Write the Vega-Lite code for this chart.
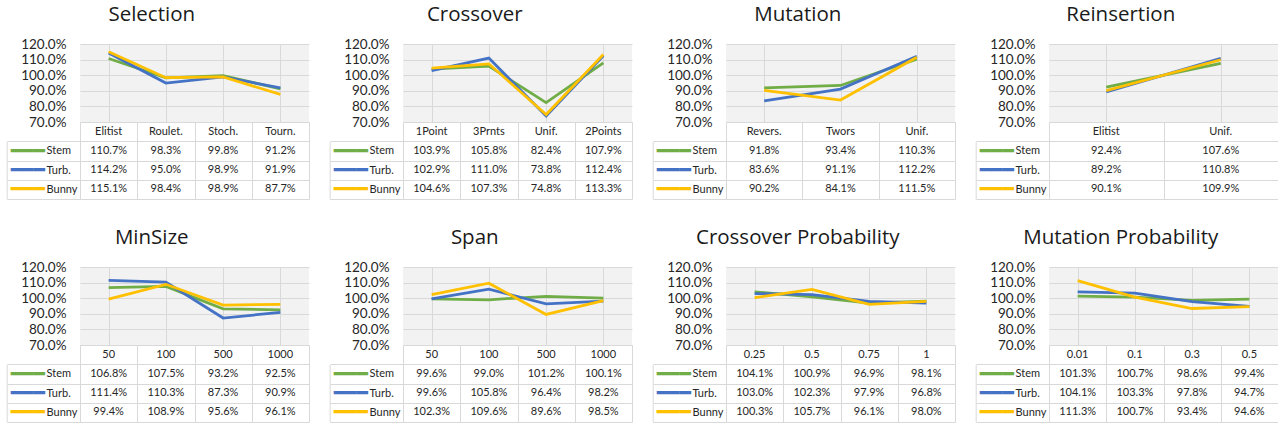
{
  "$schema": "https://vega.github.io/schema/vega-lite/v6.json",
  "padding": {"left": 6, "top": 4, "right": 0, "bottom": 0},
  "datasets": {
    "Selection": [
      {"cat": "Elitist", "s": "Stem", "v": 1.107}, {"cat": "Roulet.", "s": "Stem", "v": 0.983}, {"cat": "Stoch.", "s": "Stem", "v": 0.998}, {"cat": "Tourn.", "s": "Stem", "v": 0.912},
      {"cat": "Elitist", "s": "Turb.", "v": 1.142}, {"cat": "Roulet.", "s": "Turb.", "v": 0.950}, {"cat": "Stoch.", "s": "Turb.", "v": 0.989}, {"cat": "Tourn.", "s": "Turb.", "v": 0.919},
      {"cat": "Elitist", "s": "Bunny", "v": 1.151}, {"cat": "Roulet.", "s": "Bunny", "v": 0.984}, {"cat": "Stoch.", "s": "Bunny", "v": 0.989}, {"cat": "Tourn.", "s": "Bunny", "v": 0.877}
    ],
    "Crossover": [
      {"cat": "1Point", "s": "Stem", "v": 1.039}, {"cat": "3Prnts", "s": "Stem", "v": 1.058}, {"cat": "Unif.", "s": "Stem", "v": 0.824}, {"cat": "2Points", "s": "Stem", "v": 1.079},
      {"cat": "1Point", "s": "Turb.", "v": 1.029}, {"cat": "3Prnts", "s": "Turb.", "v": 1.110}, {"cat": "Unif.", "s": "Turb.", "v": 0.738}, {"cat": "2Points", "s": "Turb.", "v": 1.124},
      {"cat": "1Point", "s": "Bunny", "v": 1.046}, {"cat": "3Prnts", "s": "Bunny", "v": 1.073}, {"cat": "Unif.", "s": "Bunny", "v": 0.748}, {"cat": "2Points", "s": "Bunny", "v": 1.133}
    ],
    "Mutation": [
      {"cat": "Revers.", "s": "Stem", "v": 0.918}, {"cat": "Twors", "s": "Stem", "v": 0.934}, {"cat": "Unif.", "s": "Stem", "v": 1.103},
      {"cat": "Revers.", "s": "Turb.", "v": 0.836}, {"cat": "Twors", "s": "Turb.", "v": 0.911}, {"cat": "Unif.", "s": "Turb.", "v": 1.122},
      {"cat": "Revers.", "s": "Bunny", "v": 0.902}, {"cat": "Twors", "s": "Bunny", "v": 0.841}, {"cat": "Unif.", "s": "Bunny", "v": 1.115}
    ],
    "Reinsertion": [
      {"cat": "Elitist", "s": "Stem", "v": 0.924}, {"cat": "Unif.", "s": "Stem", "v": 1.076},
      {"cat": "Elitist", "s": "Turb.", "v": 0.892}, {"cat": "Unif.", "s": "Turb.", "v": 1.108},
      {"cat": "Elitist", "s": "Bunny", "v": 0.901}, {"cat": "Unif.", "s": "Bunny", "v": 1.099}
    ],
    "MinSize": [
      {"cat": "50", "s": "Stem", "v": 1.068}, {"cat": "100", "s": "Stem", "v": 1.075}, {"cat": "500", "s": "Stem", "v": 0.932}, {"cat": "1000", "s": "Stem", "v": 0.925},
      {"cat": "50", "s": "Turb.", "v": 1.114}, {"cat": "100", "s": "Turb.", "v": 1.103}, {"cat": "500", "s": "Turb.", "v": 0.873}, {"cat": "1000", "s": "Turb.", "v": 0.909},
      {"cat": "50", "s": "Bunny", "v": 0.994}, {"cat": "100", "s": "Bunny", "v": 1.089}, {"cat": "500", "s": "Bunny", "v": 0.956}, {"cat": "1000", "s": "Bunny", "v": 0.961}
    ],
    "Span": [
      {"cat": "50", "s": "Stem", "v": 0.996}, {"cat": "100", "s": "Stem", "v": 0.990}, {"cat": "500", "s": "Stem", "v": 1.012}, {"cat": "1000", "s": "Stem", "v": 1.001},
      {"cat": "50", "s": "Turb.", "v": 0.996}, {"cat": "100", "s": "Turb.", "v": 1.058}, {"cat": "500", "s": "Turb.", "v": 0.964}, {"cat": "1000", "s": "Turb.", "v": 0.982},
      {"cat": "50", "s": "Bunny", "v": 1.023}, {"cat": "100", "s": "Bunny", "v": 1.096}, {"cat": "500", "s": "Bunny", "v": 0.896}, {"cat": "1000", "s": "Bunny", "v": 0.985}
    ],
    "CrossProb": [
      {"cat": "0.25", "s": "Stem", "v": 1.041}, {"cat": "0.5", "s": "Stem", "v": 1.009}, {"cat": "0.75", "s": "Stem", "v": 0.969}, {"cat": "1", "s": "Stem", "v": 0.981},
      {"cat": "0.25", "s": "Turb.", "v": 1.030}, {"cat": "0.5", "s": "Turb.", "v": 1.023}, {"cat": "0.75", "s": "Turb.", "v": 0.979}, {"cat": "1", "s": "Turb.", "v": 0.968},
      {"cat": "0.25", "s": "Bunny", "v": 1.003}, {"cat": "0.5", "s": "Bunny", "v": 1.057}, {"cat": "0.75", "s": "Bunny", "v": 0.961}, {"cat": "1", "s": "Bunny", "v": 0.980}
    ],
    "MutProb": [
      {"cat": "0.01", "s": "Stem", "v": 1.013}, {"cat": "0.1", "s": "Stem", "v": 1.007}, {"cat": "0.3", "s": "Stem", "v": 0.986}, {"cat": "0.5", "s": "Stem", "v": 0.994},
      {"cat": "0.01", "s": "Turb.", "v": 1.041}, {"cat": "0.1", "s": "Turb.", "v": 1.033}, {"cat": "0.3", "s": "Turb.", "v": 0.978}, {"cat": "0.5", "s": "Turb.", "v": 0.947},
      {"cat": "0.01", "s": "Bunny", "v": 1.113}, {"cat": "0.1", "s": "Bunny", "v": 1.007}, {"cat": "0.3", "s": "Bunny", "v": 0.934}, {"cat": "0.5", "s": "Bunny", "v": 0.946}
    ]
  },
  "spacing": 27,
  "vconcat": [
    {
      "spacing": 20,
      "hconcat": [
        {"data": {"name": "Selection"}, "title": {"text": "Selection"}, "bounds": "flush", "spacing": 0, "vconcat": [
          {"width": 229, "height": 78, "view": {"fill": "#f2f2f2", "stroke": null}, "mark": {"type": "line", "strokeWidth": 2.75},
           "encoding": {
             "x": {"field": "cat", "type": "nominal", "sort": null, "scale": {"type": "point", "padding": 0.5}, "axis": {"title": null, "labels": false, "ticks": false, "domain": false, "grid": true}},
             "y": {"field": "v", "type": "quantitative", "scale": {"domain": [0.7, 1.2], "nice": false, "zero": false}, "axis": {"title": null, "values": [0.7, 0.8, 0.9, 1.0, 1.1, 1.2], "format": ".1%", "domain": false, "ticks": false, "labelPadding": 14, "labelFontSize": 13.5, "grid": true}},
             "color": {"field": "s", "type": "nominal", "scale": {"domain": ["Stem", "Turb.", "Bunny"], "range": ["#70AD47", "#4472C4", "#FFC000"]}, "legend": null}}},
          {"width": 229, "height": 77, "view": {"stroke": null}, "resolve": {"axis": {"y": "independent"}}, "layer": [
            {"mark": {"type": "text", "fontSize": 11, "font": "Lato", "color": "#262626"},
             "encoding": {
               "x": {"field": "cat", "type": "nominal", "sort": null, "scale": {"type": "band", "paddingInner": 0, "paddingOuter": 0}, "axis": {"title": null, "labels": false, "ticks": false, "domain": false, "grid": true, "tickBand": "extent"}},
               "y": {"field": "s", "type": "nominal", "scale": {"type": "band", "domain": ["hdr", "Stem", "Turb.", "Bunny"], "paddingInner": 0, "paddingOuter": 0}, "axis": {"title": null, "domain": false, "grid": true, "tickBand": "extent", "ticks": true, "tickSize": 73, "tickColor": {"condition": {"test": "datum.extra", "value": "transparent"}, "value": "#d9d9d9"}, "labelPadding": -39, "labelAlign": "left", "labelFontSize": 11, "labelExpr": "datum.value === 'hdr' ? '' : datum.value"}},
               "text": {"field": "v", "type": "quantitative", "format": ".1%"}}},
            {"transform": [{"filter": "datum.s === 'Stem'"}], "mark": {"type": "text", "fontSize": 11, "font": "Lato", "color": "#262626"},
             "encoding": {
               "x": {"field": "cat", "type": "nominal", "sort": null, "scale": {"type": "band", "paddingInner": 0, "paddingOuter": 0}, "axis": {"title": null, "labels": false, "ticks": false, "domain": false, "grid": true, "tickBand": "extent"}},
               "y": {"datum": "hdr", "type": "nominal", "scale": {"type": "band", "domain": ["hdr", "Stem", "Turb.", "Bunny"], "paddingInner": 0, "paddingOuter": 0}, "axis": null},
               "text": {"field": "cat", "type": "nominal"}}},
            {"mark": {"type": "text", "opacity": 0},
             "encoding": {
               "y": {"field": "s", "type": "nominal", "scale": {"type": "band", "domain": ["hdr", "Stem", "Turb.", "Bunny"], "paddingInner": 0, "paddingOuter": 0}, "axis": {"orient": "left", "offset": 73.3, "title": null, "domain": true, "domainColor": "#d9d9d9", "domainDash": [0, 19.25, 57.75, 0], "grid": false, "ticks": false, "tickSize": 0, "labelPadding": -3.6, "labelAlign": "left", "labelFont": "DejaVu Sans", "labelFontSize": 18.8, "labelExpr": "datum.value === 'hdr' ? '' : '━━━'", "labelColor": {"condition": [{"test": "datum.value === 'Stem'", "value": "#70AD47"}, {"test": "datum.value === 'Turb.'", "value": "#4472C4"}], "value": "#FFC000"}}},
               "text": {"value": ""}}}
          ]}
        ]},
        {"data": {"name": "Crossover"}, "title": {"text": "Crossover"}, "bounds": "flush", "spacing": 0, "vconcat": [
          {"width": 229, "height": 78, "view": {"fill": "#f2f2f2", "stroke": null}, "mark": {"type": "line", "strokeWidth": 2.75},
           "encoding": {
             "x": {"field": "cat", "type": "nominal", "sort": null, "scale": {"type": "point", "padding": 0.5}, "axis": {"title": null, "labels": false, "ticks": false, "domain": false, "grid": true}},
             "y": {"field": "v", "type": "quantitative", "scale": {"domain": [0.7, 1.2], "nice": false, "zero": false}, "axis": {"title": null, "values": [0.7, 0.8, 0.9, 1.0, 1.1, 1.2], "format": ".1%", "domain": false, "ticks": false, "labelPadding": 14, "labelFontSize": 13.5, "grid": true}},
             "color": {"field": "s", "type": "nominal", "scale": {"domain": ["Stem", "Turb.", "Bunny"], "range": ["#70AD47", "#4472C4", "#FFC000"]}, "legend": null}}},
          {"width": 229, "height": 77, "view": {"stroke": null}, "resolve": {"axis": {"y": "independent"}}, "layer": [
            {"mark": {"type": "text", "fontSize": 11, "font": "Lato", "color": "#262626"},
             "encoding": {
               "x": {"field": "cat", "type": "nominal", "sort": null, "scale": {"type": "band", "paddingInner": 0, "paddingOuter": 0}, "axis": {"title": null, "labels": false, "ticks": false, "domain": false, "grid": true, "tickBand": "extent"}},
               "y": {"field": "s", "type": "nominal", "scale": {"type": "band", "domain": ["hdr", "Stem", "Turb.", "Bunny"], "paddingInner": 0, "paddingOuter": 0}, "axis": {"title": null, "domain": false, "grid": true, "tickBand": "extent", "ticks": true, "tickSize": 73, "tickColor": {"condition": {"test": "datum.extra", "value": "transparent"}, "value": "#d9d9d9"}, "labelPadding": -39, "labelAlign": "left", "labelFontSize": 11, "labelExpr": "datum.value === 'hdr' ? '' : datum.value"}},
               "text": {"field": "v", "type": "quantitative", "format": ".1%"}}},
            {"transform": [{"filter": "datum.s === 'Stem'"}], "mark": {"type": "text", "fontSize": 11, "font": "Lato", "color": "#262626"},
             "encoding": {
               "x": {"field": "cat", "type": "nominal", "sort": null, "scale": {"type": "band", "paddingInner": 0, "paddingOuter": 0}, "axis": {"title": null, "labels": false, "ticks": false, "domain": false, "grid": true, "tickBand": "extent"}},
               "y": {"datum": "hdr", "type": "nominal", "scale": {"type": "band", "domain": ["hdr", "Stem", "Turb.", "Bunny"], "paddingInner": 0, "paddingOuter": 0}, "axis": null},
               "text": {"field": "cat", "type": "nominal"}}},
            {"mark": {"type": "text", "opacity": 0},
             "encoding": {
               "y": {"field": "s", "type": "nominal", "scale": {"type": "band", "domain": ["hdr", "Stem", "Turb.", "Bunny"], "paddingInner": 0, "paddingOuter": 0}, "axis": {"orient": "left", "offset": 73.3, "title": null, "domain": true, "domainColor": "#d9d9d9", "domainDash": [0, 19.25, 57.75, 0], "grid": false, "ticks": false, "tickSize": 0, "labelPadding": -3.6, "labelAlign": "left", "labelFont": "DejaVu Sans", "labelFontSize": 18.8, "labelExpr": "datum.value === 'hdr' ? '' : '━━━'", "labelColor": {"condition": [{"test": "datum.value === 'Stem'", "value": "#70AD47"}, {"test": "datum.value === 'Turb.'", "value": "#4472C4"}], "value": "#FFC000"}}},
               "text": {"value": ""}}}
          ]}
        ]},
        {"data": {"name": "Mutation"}, "title": {"text": "Mutation"}, "bounds": "flush", "spacing": 0, "vconcat": [
          {"width": 229, "height": 78, "view": {"fill": "#f2f2f2", "stroke": null}, "mark": {"type": "line", "strokeWidth": 2.75},
           "encoding": {
             "x": {"field": "cat", "type": "nominal", "sort": null, "scale": {"type": "point", "padding": 0.5}, "axis": {"title": null, "labels": false, "ticks": false, "domain": false, "grid": true}},
             "y": {"field": "v", "type": "quantitative", "scale": {"domain": [0.7, 1.2], "nice": false, "zero": false}, "axis": {"title": null, "values": [0.7, 0.8, 0.9, 1.0, 1.1, 1.2], "format": ".1%", "domain": false, "ticks": false, "labelPadding": 14, "labelFontSize": 13.5, "grid": true}},
             "color": {"field": "s", "type": "nominal", "scale": {"domain": ["Stem", "Turb.", "Bunny"], "range": ["#70AD47", "#4472C4", "#FFC000"]}, "legend": null}}},
          {"width": 229, "height": 77, "view": {"stroke": null}, "resolve": {"axis": {"y": "independent"}}, "layer": [
            {"mark": {"type": "text", "fontSize": 11, "font": "Lato", "color": "#262626"},
             "encoding": {
               "x": {"field": "cat", "type": "nominal", "sort": null, "scale": {"type": "band", "paddingInner": 0, "paddingOuter": 0}, "axis": {"title": null, "labels": false, "ticks": false, "domain": false, "grid": true, "tickBand": "extent"}},
               "y": {"field": "s", "type": "nominal", "scale": {"type": "band", "domain": ["hdr", "Stem", "Turb.", "Bunny"], "paddingInner": 0, "paddingOuter": 0}, "axis": {"title": null, "domain": false, "grid": true, "tickBand": "extent", "ticks": true, "tickSize": 73, "tickColor": {"condition": {"test": "datum.extra", "value": "transparent"}, "value": "#d9d9d9"}, "labelPadding": -39, "labelAlign": "left", "labelFontSize": 11, "labelExpr": "datum.value === 'hdr' ? '' : datum.value"}},
               "text": {"field": "v", "type": "quantitative", "format": ".1%"}}},
            {"transform": [{"filter": "datum.s === 'Stem'"}], "mark": {"type": "text", "fontSize": 11, "font": "Lato", "color": "#262626"},
             "encoding": {
               "x": {"field": "cat", "type": "nominal", "sort": null, "scale": {"type": "band", "paddingInner": 0, "paddingOuter": 0}, "axis": {"title": null, "labels": false, "ticks": false, "domain": false, "grid": true, "tickBand": "extent"}},
               "y": {"datum": "hdr", "type": "nominal", "scale": {"type": "band", "domain": ["hdr", "Stem", "Turb.", "Bunny"], "paddingInner": 0, "paddingOuter": 0}, "axis": null},
               "text": {"field": "cat", "type": "nominal"}}},
            {"mark": {"type": "text", "opacity": 0},
             "encoding": {
               "y": {"field": "s", "type": "nominal", "scale": {"type": "band", "domain": ["hdr", "Stem", "Turb.", "Bunny"], "paddingInner": 0, "paddingOuter": 0}, "axis": {"orient": "left", "offset": 73.3, "title": null, "domain": true, "domainColor": "#d9d9d9", "domainDash": [0, 19.25, 57.75, 0], "grid": false, "ticks": false, "tickSize": 0, "labelPadding": -3.6, "labelAlign": "left", "labelFont": "DejaVu Sans", "labelFontSize": 18.8, "labelExpr": "datum.value === 'hdr' ? '' : '━━━'", "labelColor": {"condition": [{"test": "datum.value === 'Stem'", "value": "#70AD47"}, {"test": "datum.value === 'Turb.'", "value": "#4472C4"}], "value": "#FFC000"}}},
               "text": {"value": ""}}}
          ]}
        ]},
        {"data": {"name": "Reinsertion"}, "title": {"text": "Reinsertion"}, "bounds": "flush", "spacing": 0, "vconcat": [
          {"width": 229, "height": 78, "view": {"fill": "#f2f2f2", "stroke": null}, "mark": {"type": "line", "strokeWidth": 2.75},
           "encoding": {
             "x": {"field": "cat", "type": "nominal", "sort": null, "scale": {"type": "point", "padding": 0.5}, "axis": {"title": null, "labels": false, "ticks": false, "domain": false, "grid": true}},
             "y": {"field": "v", "type": "quantitative", "scale": {"domain": [0.7, 1.2], "nice": false, "zero": false}, "axis": {"title": null, "values": [0.7, 0.8, 0.9, 1.0, 1.1, 1.2], "format": ".1%", "domain": false, "ticks": false, "labelPadding": 14, "labelFontSize": 13.5, "grid": true}},
             "color": {"field": "s", "type": "nominal", "scale": {"domain": ["Stem", "Turb.", "Bunny"], "range": ["#70AD47", "#4472C4", "#FFC000"]}, "legend": null}}},
          {"width": 229, "height": 77, "view": {"stroke": null}, "resolve": {"axis": {"y": "independent"}}, "layer": [
            {"mark": {"type": "text", "fontSize": 11, "font": "Lato", "color": "#262626"},
             "encoding": {
               "x": {"field": "cat", "type": "nominal", "sort": null, "scale": {"type": "band", "paddingInner": 0, "paddingOuter": 0}, "axis": {"title": null, "labels": false, "ticks": false, "domain": false, "grid": true, "tickBand": "extent"}},
               "y": {"field": "s", "type": "nominal", "scale": {"type": "band", "domain": ["hdr", "Stem", "Turb.", "Bunny"], "paddingInner": 0, "paddingOuter": 0}, "axis": {"title": null, "domain": false, "grid": true, "tickBand": "extent", "ticks": true, "tickSize": 73, "tickColor": {"condition": {"test": "datum.extra", "value": "transparent"}, "value": "#d9d9d9"}, "labelPadding": -39, "labelAlign": "left", "labelFontSize": 11, "labelExpr": "datum.value === 'hdr' ? '' : datum.value"}},
               "text": {"field": "v", "type": "quantitative", "format": ".1%"}}},
            {"transform": [{"filter": "datum.s === 'Stem'"}], "mark": {"type": "text", "fontSize": 11, "font": "Lato", "color": "#262626"},
             "encoding": {
               "x": {"field": "cat", "type": "nominal", "sort": null, "scale": {"type": "band", "paddingInner": 0, "paddingOuter": 0}, "axis": {"title": null, "labels": false, "ticks": false, "domain": false, "grid": true, "tickBand": "extent"}},
               "y": {"datum": "hdr", "type": "nominal", "scale": {"type": "band", "domain": ["hdr", "Stem", "Turb.", "Bunny"], "paddingInner": 0, "paddingOuter": 0}, "axis": null},
               "text": {"field": "cat", "type": "nominal"}}},
            {"mark": {"type": "text", "opacity": 0},
             "encoding": {
               "y": {"field": "s", "type": "nominal", "scale": {"type": "band", "domain": ["hdr", "Stem", "Turb.", "Bunny"], "paddingInner": 0, "paddingOuter": 0}, "axis": {"orient": "left", "offset": 73.3, "title": null, "domain": true, "domainColor": "#d9d9d9", "domainDash": [0, 19.25, 57.75, 0], "grid": false, "ticks": false, "tickSize": 0, "labelPadding": -3.6, "labelAlign": "left", "labelFont": "DejaVu Sans", "labelFontSize": 18.8, "labelExpr": "datum.value === 'hdr' ? '' : '━━━'", "labelColor": {"condition": [{"test": "datum.value === 'Stem'", "value": "#70AD47"}, {"test": "datum.value === 'Turb.'", "value": "#4472C4"}], "value": "#FFC000"}}},
               "text": {"value": ""}}}
          ]}
        ]}
      ]
    },
    {
      "spacing": 20,
      "hconcat": [
        {"data": {"name": "MinSize"}, "title": {"text": "MinSize"}, "bounds": "flush", "spacing": 0, "vconcat": [
          {"width": 229, "height": 78, "view": {"fill": "#f2f2f2", "stroke": null}, "mark": {"type": "line", "strokeWidth": 2.75},
           "encoding": {
             "x": {"field": "cat", "type": "nominal", "sort": null, "scale": {"type": "point", "padding": 0.5}, "axis": {"title": null, "labels": false, "ticks": false, "domain": false, "grid": true}},
             "y": {"field": "v", "type": "quantitative", "scale": {"domain": [0.7, 1.2], "nice": false, "zero": false}, "axis": {"title": null, "values": [0.7, 0.8, 0.9, 1.0, 1.1, 1.2], "format": ".1%", "domain": false, "ticks": false, "labelPadding": 14, "labelFontSize": 13.5, "grid": true}},
             "color": {"field": "s", "type": "nominal", "scale": {"domain": ["Stem", "Turb.", "Bunny"], "range": ["#70AD47", "#4472C4", "#FFC000"]}, "legend": null}}},
          {"width": 229, "height": 77, "view": {"stroke": null}, "resolve": {"axis": {"y": "independent"}}, "layer": [
            {"mark": {"type": "text", "fontSize": 11, "font": "Lato", "color": "#262626"},
             "encoding": {
               "x": {"field": "cat", "type": "nominal", "sort": null, "scale": {"type": "band", "paddingInner": 0, "paddingOuter": 0}, "axis": {"title": null, "labels": false, "ticks": false, "domain": false, "grid": true, "tickBand": "extent"}},
               "y": {"field": "s", "type": "nominal", "scale": {"type": "band", "domain": ["hdr", "Stem", "Turb.", "Bunny"], "paddingInner": 0, "paddingOuter": 0}, "axis": {"title": null, "domain": false, "grid": true, "tickBand": "extent", "ticks": true, "tickSize": 73, "tickColor": {"condition": {"test": "datum.extra", "value": "transparent"}, "value": "#d9d9d9"}, "labelPadding": -39, "labelAlign": "left", "labelFontSize": 11, "labelExpr": "datum.value === 'hdr' ? '' : datum.value"}},
               "text": {"field": "v", "type": "quantitative", "format": ".1%"}}},
            {"transform": [{"filter": "datum.s === 'Stem'"}], "mark": {"type": "text", "fontSize": 11, "font": "Lato", "color": "#262626"},
             "encoding": {
               "x": {"field": "cat", "type": "nominal", "sort": null, "scale": {"type": "band", "paddingInner": 0, "paddingOuter": 0}, "axis": {"title": null, "labels": false, "ticks": false, "domain": false, "grid": true, "tickBand": "extent"}},
               "y": {"datum": "hdr", "type": "nominal", "scale": {"type": "band", "domain": ["hdr", "Stem", "Turb.", "Bunny"], "paddingInner": 0, "paddingOuter": 0}, "axis": null},
               "text": {"field": "cat", "type": "nominal"}}},
            {"mark": {"type": "text", "opacity": 0},
             "encoding": {
               "y": {"field": "s", "type": "nominal", "scale": {"type": "band", "domain": ["hdr", "Stem", "Turb.", "Bunny"], "paddingInner": 0, "paddingOuter": 0}, "axis": {"orient": "left", "offset": 73.3, "title": null, "domain": true, "domainColor": "#d9d9d9", "domainDash": [0, 19.25, 57.75, 0], "grid": false, "ticks": false, "tickSize": 0, "labelPadding": -3.6, "labelAlign": "left", "labelFont": "DejaVu Sans", "labelFontSize": 18.8, "labelExpr": "datum.value === 'hdr' ? '' : '━━━'", "labelColor": {"condition": [{"test": "datum.value === 'Stem'", "value": "#70AD47"}, {"test": "datum.value === 'Turb.'", "value": "#4472C4"}], "value": "#FFC000"}}},
               "text": {"value": ""}}}
          ]}
        ]},
        {"data": {"name": "Span"}, "title": {"text": "Span"}, "bounds": "flush", "spacing": 0, "vconcat": [
          {"width": 229, "height": 78, "view": {"fill": "#f2f2f2", "stroke": null}, "mark": {"type": "line", "strokeWidth": 2.75},
           "encoding": {
             "x": {"field": "cat", "type": "nominal", "sort": null, "scale": {"type": "point", "padding": 0.5}, "axis": {"title": null, "labels": false, "ticks": false, "domain": false, "grid": true}},
             "y": {"field": "v", "type": "quantitative", "scale": {"domain": [0.7, 1.2], "nice": false, "zero": false}, "axis": {"title": null, "values": [0.7, 0.8, 0.9, 1.0, 1.1, 1.2], "format": ".1%", "domain": false, "ticks": false, "labelPadding": 14, "labelFontSize": 13.5, "grid": true}},
             "color": {"field": "s", "type": "nominal", "scale": {"domain": ["Stem", "Turb.", "Bunny"], "range": ["#70AD47", "#4472C4", "#FFC000"]}, "legend": null}}},
          {"width": 229, "height": 77, "view": {"stroke": null}, "resolve": {"axis": {"y": "independent"}}, "layer": [
            {"mark": {"type": "text", "fontSize": 11, "font": "Lato", "color": "#262626"},
             "encoding": {
               "x": {"field": "cat", "type": "nominal", "sort": null, "scale": {"type": "band", "paddingInner": 0, "paddingOuter": 0}, "axis": {"title": null, "labels": false, "ticks": false, "domain": false, "grid": true, "tickBand": "extent"}},
               "y": {"field": "s", "type": "nominal", "scale": {"type": "band", "domain": ["hdr", "Stem", "Turb.", "Bunny"], "paddingInner": 0, "paddingOuter": 0}, "axis": {"title": null, "domain": false, "grid": true, "tickBand": "extent", "ticks": true, "tickSize": 73, "tickColor": {"condition": {"test": "datum.extra", "value": "transparent"}, "value": "#d9d9d9"}, "labelPadding": -39, "labelAlign": "left", "labelFontSize": 11, "labelExpr": "datum.value === 'hdr' ? '' : datum.value"}},
               "text": {"field": "v", "type": "quantitative", "format": ".1%"}}},
            {"transform": [{"filter": "datum.s === 'Stem'"}], "mark": {"type": "text", "fontSize": 11, "font": "Lato", "color": "#262626"},
             "encoding": {
               "x": {"field": "cat", "type": "nominal", "sort": null, "scale": {"type": "band", "paddingInner": 0, "paddingOuter": 0}, "axis": {"title": null, "labels": false, "ticks": false, "domain": false, "grid": true, "tickBand": "extent"}},
               "y": {"datum": "hdr", "type": "nominal", "scale": {"type": "band", "domain": ["hdr", "Stem", "Turb.", "Bunny"], "paddingInner": 0, "paddingOuter": 0}, "axis": null},
               "text": {"field": "cat", "type": "nominal"}}},
            {"mark": {"type": "text", "opacity": 0},
             "encoding": {
               "y": {"field": "s", "type": "nominal", "scale": {"type": "band", "domain": ["hdr", "Stem", "Turb.", "Bunny"], "paddingInner": 0, "paddingOuter": 0}, "axis": {"orient": "left", "offset": 73.3, "title": null, "domain": true, "domainColor": "#d9d9d9", "domainDash": [0, 19.25, 57.75, 0], "grid": false, "ticks": false, "tickSize": 0, "labelPadding": -3.6, "labelAlign": "left", "labelFont": "DejaVu Sans", "labelFontSize": 18.8, "labelExpr": "datum.value === 'hdr' ? '' : '━━━'", "labelColor": {"condition": [{"test": "datum.value === 'Stem'", "value": "#70AD47"}, {"test": "datum.value === 'Turb.'", "value": "#4472C4"}], "value": "#FFC000"}}},
               "text": {"value": ""}}}
          ]}
        ]},
        {"data": {"name": "CrossProb"}, "title": {"text": "Crossover Probability"}, "bounds": "flush", "spacing": 0, "vconcat": [
          {"width": 229, "height": 78, "view": {"fill": "#f2f2f2", "stroke": null}, "mark": {"type": "line", "strokeWidth": 2.75},
           "encoding": {
             "x": {"field": "cat", "type": "nominal", "sort": null, "scale": {"type": "point", "padding": 0.5}, "axis": {"title": null, "labels": false, "ticks": false, "domain": false, "grid": true}},
             "y": {"field": "v", "type": "quantitative", "scale": {"domain": [0.7, 1.2], "nice": false, "zero": false}, "axis": {"title": null, "values": [0.7, 0.8, 0.9, 1.0, 1.1, 1.2], "format": ".1%", "domain": false, "ticks": false, "labelPadding": 14, "labelFontSize": 13.5, "grid": true}},
             "color": {"field": "s", "type": "nominal", "scale": {"domain": ["Stem", "Turb.", "Bunny"], "range": ["#70AD47", "#4472C4", "#FFC000"]}, "legend": null}}},
          {"width": 229, "height": 77, "view": {"stroke": null}, "resolve": {"axis": {"y": "independent"}}, "layer": [
            {"mark": {"type": "text", "fontSize": 11, "font": "Lato", "color": "#262626"},
             "encoding": {
               "x": {"field": "cat", "type": "nominal", "sort": null, "scale": {"type": "band", "paddingInner": 0, "paddingOuter": 0}, "axis": {"title": null, "labels": false, "ticks": false, "domain": false, "grid": true, "tickBand": "extent"}},
               "y": {"field": "s", "type": "nominal", "scale": {"type": "band", "domain": ["hdr", "Stem", "Turb.", "Bunny"], "paddingInner": 0, "paddingOuter": 0}, "axis": {"title": null, "domain": false, "grid": true, "tickBand": "extent", "ticks": true, "tickSize": 73, "tickColor": {"condition": {"test": "datum.extra", "value": "transparent"}, "value": "#d9d9d9"}, "labelPadding": -39, "labelAlign": "left", "labelFontSize": 11, "labelExpr": "datum.value === 'hdr' ? '' : datum.value"}},
               "text": {"field": "v", "type": "quantitative", "format": ".1%"}}},
            {"transform": [{"filter": "datum.s === 'Stem'"}], "mark": {"type": "text", "fontSize": 11, "font": "Lato", "color": "#262626"},
             "encoding": {
               "x": {"field": "cat", "type": "nominal", "sort": null, "scale": {"type": "band", "paddingInner": 0, "paddingOuter": 0}, "axis": {"title": null, "labels": false, "ticks": false, "domain": false, "grid": true, "tickBand": "extent"}},
               "y": {"datum": "hdr", "type": "nominal", "scale": {"type": "band", "domain": ["hdr", "Stem", "Turb.", "Bunny"], "paddingInner": 0, "paddingOuter": 0}, "axis": null},
               "text": {"field": "cat", "type": "nominal"}}},
            {"mark": {"type": "text", "opacity": 0},
             "encoding": {
               "y": {"field": "s", "type": "nominal", "scale": {"type": "band", "domain": ["hdr", "Stem", "Turb.", "Bunny"], "paddingInner": 0, "paddingOuter": 0}, "axis": {"orient": "left", "offset": 73.3, "title": null, "domain": true, "domainColor": "#d9d9d9", "domainDash": [0, 19.25, 57.75, 0], "grid": false, "ticks": false, "tickSize": 0, "labelPadding": -3.6, "labelAlign": "left", "labelFont": "DejaVu Sans", "labelFontSize": 18.8, "labelExpr": "datum.value === 'hdr' ? '' : '━━━'", "labelColor": {"condition": [{"test": "datum.value === 'Stem'", "value": "#70AD47"}, {"test": "datum.value === 'Turb.'", "value": "#4472C4"}], "value": "#FFC000"}}},
               "text": {"value": ""}}}
          ]}
        ]},
        {"data": {"name": "MutProb"}, "title": {"text": "Mutation Probability"}, "bounds": "flush", "spacing": 0, "vconcat": [
          {"width": 229, "height": 78, "view": {"fill": "#f2f2f2", "stroke": null}, "mark": {"type": "line", "strokeWidth": 2.75},
           "encoding": {
             "x": {"field": "cat", "type": "nominal", "sort": null, "scale": {"type": "point", "padding": 0.5}, "axis": {"title": null, "labels": false, "ticks": false, "domain": false, "grid": true}},
             "y": {"field": "v", "type": "quantitative", "scale": {"domain": [0.7, 1.2], "nice": false, "zero": false}, "axis": {"title": null, "values": [0.7, 0.8, 0.9, 1.0, 1.1, 1.2], "format": ".1%", "domain": false, "ticks": false, "labelPadding": 14, "labelFontSize": 13.5, "grid": true}},
             "color": {"field": "s", "type": "nominal", "scale": {"domain": ["Stem", "Turb.", "Bunny"], "range": ["#70AD47", "#4472C4", "#FFC000"]}, "legend": null}}},
          {"width": 229, "height": 77, "view": {"stroke": null}, "resolve": {"axis": {"y": "independent"}}, "layer": [
            {"mark": {"type": "text", "fontSize": 11, "font": "Lato", "color": "#262626"},
             "encoding": {
               "x": {"field": "cat", "type": "nominal", "sort": null, "scale": {"type": "band", "paddingInner": 0, "paddingOuter": 0}, "axis": {"title": null, "labels": false, "ticks": false, "domain": false, "grid": true, "tickBand": "extent"}},
               "y": {"field": "s", "type": "nominal", "scale": {"type": "band", "domain": ["hdr", "Stem", "Turb.", "Bunny"], "paddingInner": 0, "paddingOuter": 0}, "axis": {"title": null, "domain": false, "grid": true, "tickBand": "extent", "ticks": true, "tickSize": 73, "tickColor": {"condition": {"test": "datum.extra", "value": "transparent"}, "value": "#d9d9d9"}, "labelPadding": -39, "labelAlign": "left", "labelFontSize": 11, "labelExpr": "datum.value === 'hdr' ? '' : datum.value"}},
               "text": {"field": "v", "type": "quantitative", "format": ".1%"}}},
            {"transform": [{"filter": "datum.s === 'Stem'"}], "mark": {"type": "text", "fontSize": 11, "font": "Lato", "color": "#262626"},
             "encoding": {
               "x": {"field": "cat", "type": "nominal", "sort": null, "scale": {"type": "band", "paddingInner": 0, "paddingOuter": 0}, "axis": {"title": null, "labels": false, "ticks": false, "domain": false, "grid": true, "tickBand": "extent"}},
               "y": {"datum": "hdr", "type": "nominal", "scale": {"type": "band", "domain": ["hdr", "Stem", "Turb.", "Bunny"], "paddingInner": 0, "paddingOuter": 0}, "axis": null},
               "text": {"field": "cat", "type": "nominal"}}},
            {"mark": {"type": "text", "opacity": 0},
             "encoding": {
               "y": {"field": "s", "type": "nominal", "scale": {"type": "band", "domain": ["hdr", "Stem", "Turb.", "Bunny"], "paddingInner": 0, "paddingOuter": 0}, "axis": {"orient": "left", "offset": 73.3, "title": null, "domain": true, "domainColor": "#d9d9d9", "domainDash": [0, 19.25, 57.75, 0], "grid": false, "ticks": false, "tickSize": 0, "labelPadding": -3.6, "labelAlign": "left", "labelFont": "DejaVu Sans", "labelFontSize": 18.8, "labelExpr": "datum.value === 'hdr' ? '' : '━━━'", "labelColor": {"condition": [{"test": "datum.value === 'Stem'", "value": "#70AD47"}, {"test": "datum.value === 'Turb.'", "value": "#4472C4"}], "value": "#FFC000"}}},
               "text": {"value": ""}}}
          ]}
        ]}
      ]
    }
  ],
  "config": {
    "font": "Lato",
    "view": {"stroke": null},
    "axis": {"labelFont": "Lato", "labelColor": "#262626", "gridColor": "#d9d9d9", "gridWidth": 1},
    "title": {"font": "Open Sans", "fontSize": 20.5, "fontWeight": "normal", "color": "#1a1a1a", "anchor": "middle", "dx": -6, "offset": 12}
  }
}
